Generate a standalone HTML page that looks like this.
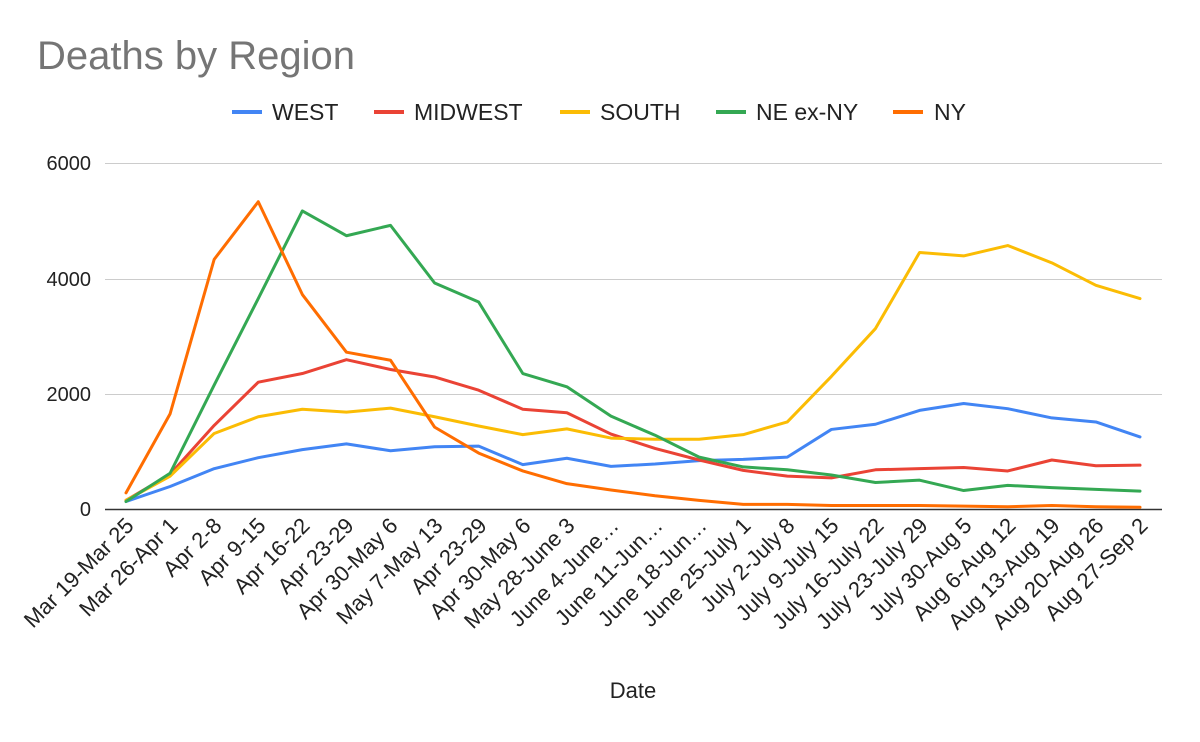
<!DOCTYPE html>
<html><head><meta charset="utf-8"><style>
body{margin:0;background:#fff;}
svg{display:block;font-family:"Liberation Sans",Arial,sans-serif;}
</style></head><body>
<svg width="1200" height="742" viewBox="0 0 1200 742">
<rect width="1200" height="742" fill="#fff"/>
<text x="37" y="69" font-size="40" fill="#757575">Deaths by Region</text>
<g font-size="23" fill="#222">
<rect x="232" y="110" width="30" height="4" fill="#4285F4"/><text x="272" y="120">WEST</text>
<rect x="374" y="110" width="30" height="4" fill="#EA4335"/><text x="414" y="120">MIDWEST</text>
<rect x="560" y="110" width="30" height="4" fill="#FBBC04"/><text x="600" y="120">SOUTH</text>
<rect x="716" y="110" width="30" height="4" fill="#34A853"/><text x="756" y="120">NE ex-NY</text>
<rect x="893" y="110" width="30" height="4" fill="#FF6D01"/><text x="934" y="120">NY</text>
</g>
<g stroke="#ccc" stroke-width="1">
<line x1="105" y1="163.5" x2="1162" y2="163.5"/>
<line x1="105" y1="279.5" x2="1162" y2="279.5"/>
<line x1="105" y1="394.5" x2="1162" y2="394.5"/>
</g>
<line x1="105" y1="509.5" x2="1162" y2="509.5" stroke="#333" stroke-width="1.5"/>
<g font-size="20" fill="#222" text-anchor="end">
<text x="91" y="170">6000</text>
<text x="91" y="286">4000</text>
<text x="91" y="401">2000</text>
<text x="91" y="516">0</text>
</g>
<g transform="translate(126,509) scale(44.087,-0.05765)" fill="none" stroke-width="3" stroke-linejoin="round" stroke-linecap="round">
<polyline vector-effect="non-scaling-stroke" stroke="#4285F4" points="0,130 1,390 2,700 3,890 4,1030 5,1130 6,1010 7,1080 8,1090 9,770 10,880 11,740 12,780 13,840 14,860 15,900 16,1380 17,1470 18,1710 19,1830 20,1740 21,1580 22,1510 23,1250"/>
<polyline vector-effect="non-scaling-stroke" stroke="#EA4335" points="0,150 1,600 2,1450 3,2200 4,2350 5,2590 6,2420 7,2290 8,2060 9,1730 10,1670 11,1300 12,1050 13,850 14,670 15,570 16,540 17,680 18,700 19,720 20,660 21,850 22,750 23,760"/>
<polyline vector-effect="non-scaling-stroke" stroke="#FBBC04" points="0,150 1,570 2,1310 3,1600 4,1730 5,1680 6,1750 7,1600 8,1440 9,1290 10,1390 11,1230 12,1210 13,1210 14,1290 15,1510 16,2300 17,3130 18,4450 19,4390 20,4570 21,4270 22,3880 23,3650"/>
<polyline vector-effect="non-scaling-stroke" stroke="#34A853" points="0,130 1,620 2,2150 3,3650 4,5170 5,4740 6,4920 7,3920 8,3590 9,2350 10,2120 11,1610 12,1280 13,900 14,730 15,680 16,590 17,460 18,500 19,320 20,410 21,370 22,340 23,310"/>
<polyline vector-effect="non-scaling-stroke" stroke="#FF6D01" points="0,280 1,1650 2,4330 3,5330 4,3720 5,2720 6,2580 7,1420 8,970 9,660 10,440 11,330 12,230 13,150 14,80 15,80 16,60 17,60 18,60 19,50 20,40 21,60 22,40 23,30"/>
</g>
<g font-size="22" fill="#222" text-anchor="end">
<text transform="translate(135,527) rotate(-45)">Mar 19-Mar 25</text>
<text transform="translate(179,527) rotate(-45)">Mar 26-Apr 1</text>
<text transform="translate(223,527) rotate(-45)">Apr 2-8</text>
<text transform="translate(267,527) rotate(-45)">Apr 9-15</text>
<text transform="translate(311,527) rotate(-45)">Apr 16-22</text>
<text transform="translate(355,527) rotate(-45)">Apr 23-29</text>
<text transform="translate(399,527) rotate(-45)">Apr 30-May 6</text>
<text transform="translate(444,527) rotate(-45)">May 7-May 13</text>
<text transform="translate(488,527) rotate(-45)">Apr 23-29</text>
<text transform="translate(532,527) rotate(-45)">Apr 30-May 6</text>
<text transform="translate(576,527) rotate(-45)">May 28-June 3</text>
<text transform="translate(620,527) rotate(-45)">June 4-June…</text>
<text transform="translate(664,527) rotate(-45)">June 11-Jun…</text>
<text transform="translate(708,527) rotate(-45)">June 18-Jun…</text>
<text transform="translate(752,527) rotate(-45)">June 25-July 1</text>
<text transform="translate(796,527) rotate(-45)">July 2-July 8</text>
<text transform="translate(840,527) rotate(-45)">July 9-July 15</text>
<text transform="translate(885,527) rotate(-45)">July 16-July 22</text>
<text transform="translate(929,527) rotate(-45)">July 23-July 29</text>
<text transform="translate(973,527) rotate(-45)">July 30-Aug 5</text>
<text transform="translate(1017,527) rotate(-45)">Aug 6-Aug 12</text>
<text transform="translate(1061,527) rotate(-45)">Aug 13-Aug 19</text>
<text transform="translate(1105,527) rotate(-45)">Aug 20-Aug 26</text>
<text transform="translate(1149,527) rotate(-45)">Aug 27-Sep 2</text>
</g>
<text x="633" y="698" font-size="22" fill="#222" text-anchor="middle">Date</text>
</svg>
</body></html>
